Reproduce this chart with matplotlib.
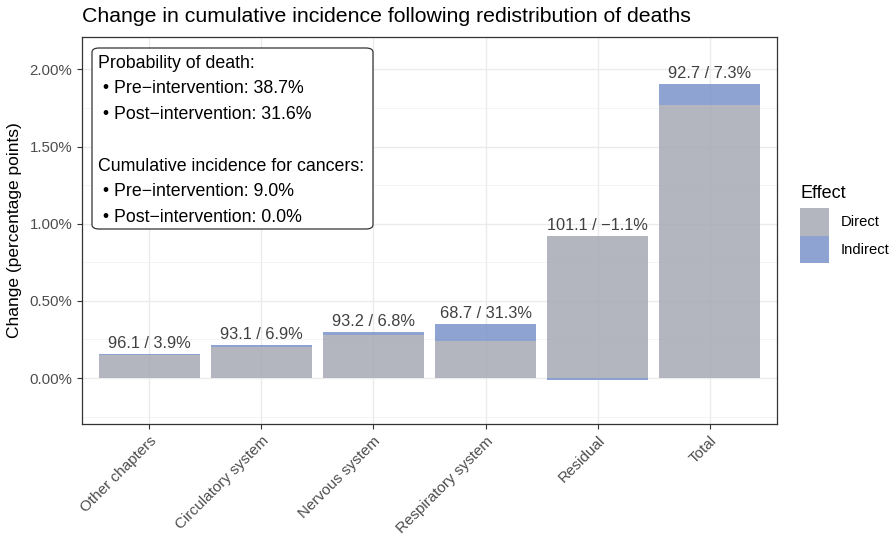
import numpy as np
import matplotlib
matplotlib.use("Agg")
import matplotlib.pyplot as plt
from matplotlib.patches import Patch, FancyBboxPatch
from matplotlib.ticker import MultipleLocator, FuncFormatter

plt.rcParams['font.family'] = ['Liberation Sans', 'DejaVu Sans']

# Data (percentage points)
categories = ["Other chapters", "Circulatory system", "Nervous system",
              "Respiratory system", "Residual", "Total"]
direct = [0.147, 0.201, 0.280, 0.240, 0.920, 1.768]
indirect = [0.006, 0.015, 0.020, 0.110, -0.010, 0.139]
labels = ["96.1 / 3.9%", "93.1 / 6.9%", "93.2 / 6.8%",
          "68.7 / 31.3%", "101.1 / \u22121.1%", "92.7 / 7.3%"]

box_lines = [
    "Probability of death:",
    " \u2022 Pre\u2212intervention: 38.7%",
    " \u2022 Post\u2212intervention: 31.6%",
    "",
    "Cumulative incidence for cancers:",
    " \u2022 Pre\u2212intervention: 9.0%",
    " \u2022 Post\u2212intervention: 0.0%",
]

col_direct = "#A7A9B4"
col_indirect = "#7B93CB"

fig = plt.figure(figsize=(8.92, 5.38), dpi=100)
ax = fig.add_axes([82 / 892, 1 - 424 / 538, (777 - 82) / 892, (424 - 37) / 538])

x = np.arange(1, len(categories) + 1)
direct = np.array(direct)
indirect = np.array(indirect)

ax.bar(x, direct, width=0.9, color=col_direct, alpha=0.85, zorder=2, linewidth=0)
bottoms = np.where(indirect >= 0, direct, 0)
ax.bar(x, indirect, width=0.9, bottom=bottoms, color=col_indirect, alpha=0.85,
       zorder=2, linewidth=0)

tops = direct + np.clip(indirect, 0, None)
for xi, top, lab in zip(x, tops, labels):
    ax.text(xi, top + 0.02, lab, ha="center", va="bottom", fontsize=11.8,
            color="#404040", zorder=3)

ax.set_xlim(0.4, 6.6)
ax.set_ylim(-0.298, 2.21)
ax.set_xticks(x)
ax.set_xticklabels(categories, rotation=45, ha="right", rotation_mode="anchor",
                   fontsize=11, color="#4D4D4D")
ax.yaxis.set_major_locator(MultipleLocator(0.5))
ax.yaxis.set_minor_locator(MultipleLocator(0.25))
ax.yaxis.set_major_formatter(FuncFormatter(lambda v, p: f"{v:.2f}%"))
ax.tick_params(axis="y", labelsize=10.8, labelcolor="#4D4D4D")
ax.tick_params(axis="both", which="major", length=3.5, color="#333333", width=0.8)
ax.tick_params(axis="y", which="minor", length=0)

ax.grid(True, which="major", color="#EBEBEB", linewidth=1.0, zorder=0)
ax.grid(True, which="minor", axis="y", color="#F2F2F2", linewidth=0.6, zorder=0)
ax.set_axisbelow(True)
for s in ax.spines.values():
    s.set_color("#333333")
    s.set_linewidth(0.9)

ax.set_ylabel("Change (percentage points)", fontsize=12.5, color="black", labelpad=5)
fig.text(82 / 892, 1 - 17 / 538, "Change in cumulative incidence following redistribution of deaths",
         fontsize=15.3, ha="left", va="center")

# annotation box
box = FancyBboxPatch((92 / 892, 1 - 229 / 538), (373 - 92) / 892, (229 - 48) / 538,
                     boxstyle="round,pad=0,rounding_size=0.008",
                     transform=fig.transFigure, facecolor="white",
                     edgecolor="#333333", linewidth=0.9, zorder=4)
fig.patches.append(box)
for i, line in enumerate(box_lines):
    fig.text(98 / 892, 1 - (63 + i * 25.8) / 538, line, fontsize=12.8,
             ha="left", va="center", zorder=5)

# legend
fig.text(801 / 892, 1 - 193 / 538, "Effect", fontsize=13, ha="left", va="center")
handles = [Patch(facecolor=col_direct, alpha=0.85, label="Direct"),
           Patch(facecolor=col_indirect, alpha=0.85, label="Indirect")]
leg = fig.legend(handles=handles, loc="upper left",
                 bbox_to_anchor=(800 / 892, 1 - 208 / 538), frameon=False,
                 fontsize=10.6, handlelength=2.0,
                 handleheight=2.5, labelspacing=0.0, handletextpad=0.75,
                 borderpad=0, borderaxespad=0)

fig.savefig("out.png", dpi=100)
